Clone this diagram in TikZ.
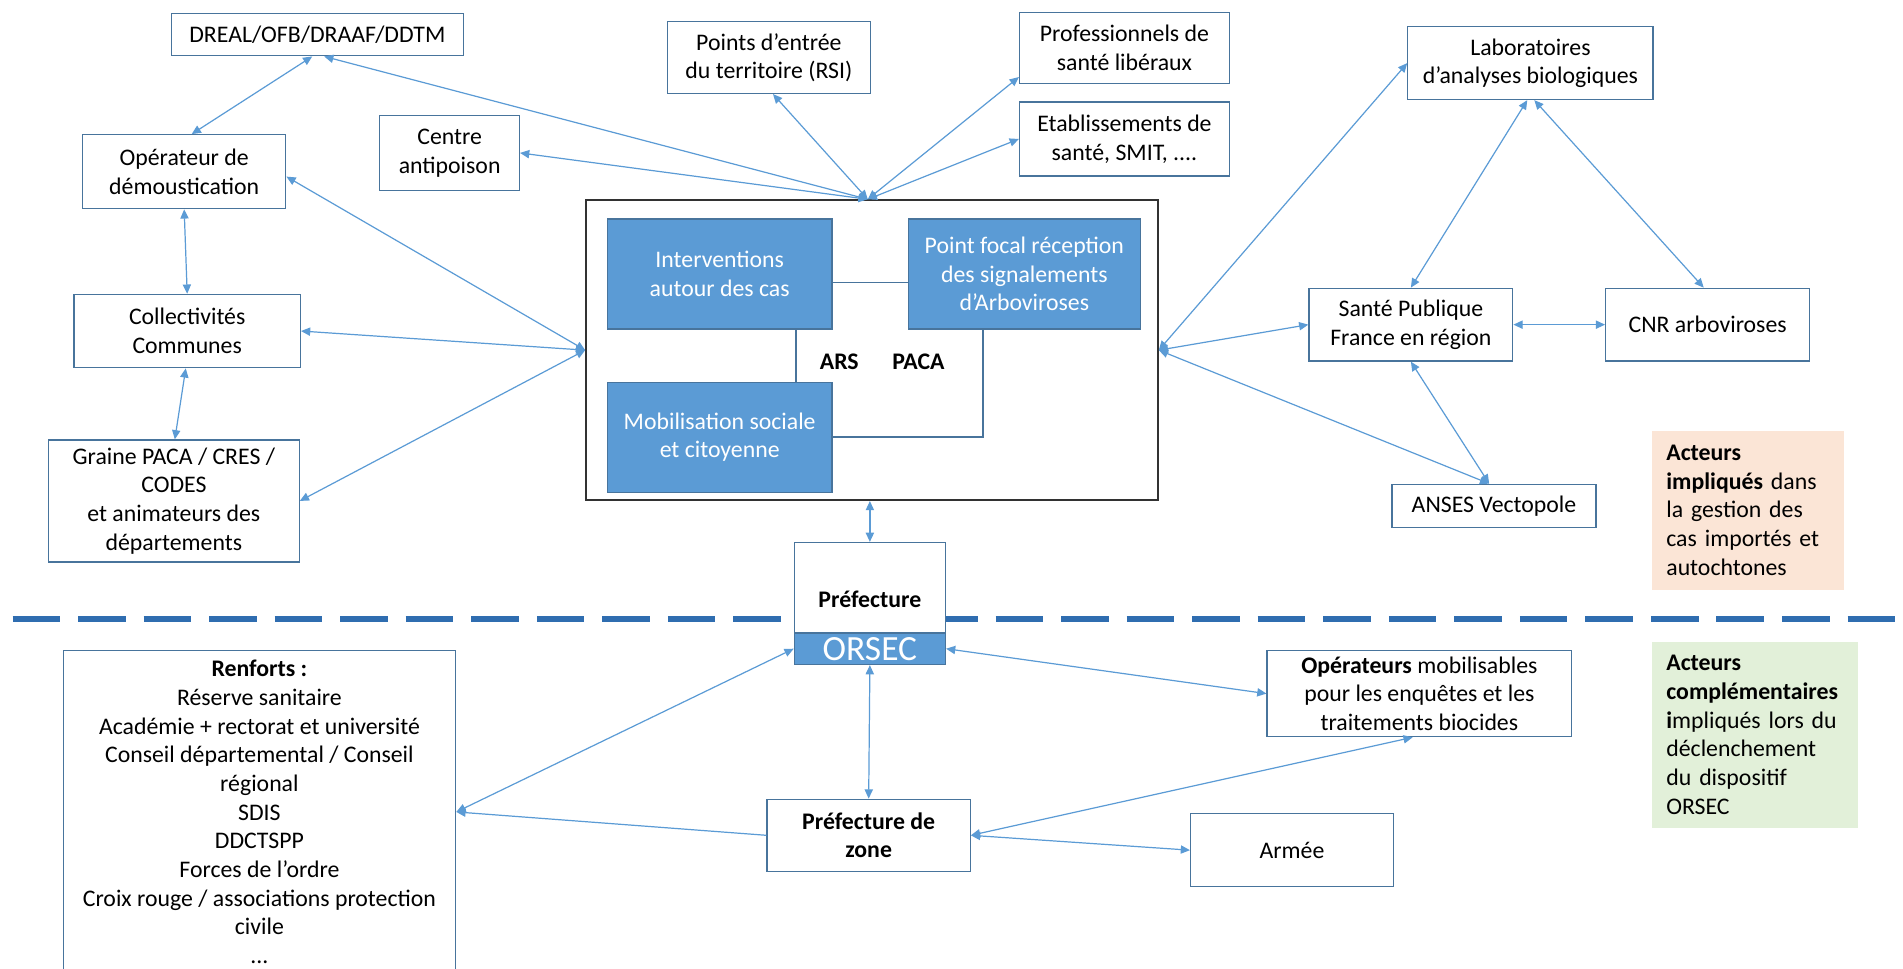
\documentclass[tikz,border=0pt]{standalone}
\usepackage{fontspec}
\setmainfont{Carlito}
\usetikzlibrary{arrows.meta}

\definecolor{arrowblue}{RGB}{91,155,213}
\definecolor{boxline}{RGB}{72,116,156}
\definecolor{fillblue}{RGB}{91,155,213}
\definecolor{dashblue}{RGB}{47,109,176}
\definecolor{mainline}{RGB}{50,50,50}
\definecolor{peach}{RGB}{251,229,214}
\definecolor{lightgreen}{RGB}{226,240,217}

\tikzset{
    box/.style={draw=boxline, line width=0.5pt, fill=white, align=center, inner sep=0pt},
    bluebox/.style={draw=boxline, line width=0.5pt, fill=fillblue, text=white, align=center, inner sep=0pt},
    legend/.style={fill=#1, align=left, inner xsep=6pt, inner ysep=0pt},
    wh/.style 2 args={minimum width=#1*0.5pt, minimum height=#2*0.5pt},
    link/.style={arrowblue, line width=0.5pt, >={Triangle[length=3.8pt,width=3.4pt]}, <->},
    linkone/.style={arrowblue, line width=0.5pt, >={Triangle[length=3.8pt,width=3.4pt]}, ->},
    inner/.style={boxline, line width=0.6pt},
    separator/.style={dashblue, line width=2.75pt, dash pattern=on 19.6pt off 7.4pt}
}

\begin{document}
\fontsize{9.8}{11.8}\selectfont
\begin{tikzpicture}[x=0.5pt, y=-0.5pt]
                    \useasboundingbox (0,0) rectangle (1568,798);
                    \clip (0,0) rectangle (1568,798);
                    % Separator
                    \draw[separator] (10.3,510) -- (1562,510);
                    % ARS block
                    \node[box, draw=mainline, line width=0.8pt, wh={471}{247}] (main) at (718.5,288.5) {};
                    \node[bluebox, wh={185}{90.5}] (interv) at (593,225.75) {Interventions\\autour des cas};
                    \node[bluebox, wh={191}{90.5}] (focal) at (844,225.75) {Point focal réception\\des signalements\\d’Arboviroses};
                    \node[bluebox, wh={185}{90.5}] (mobil) at (593,360.25) {Mobilisation sociale\\et citoyenne};
                    \node[font=\bfseries] (ars) at (691.5,298) {ARS};
                    \node[font=\bfseries] (paca) at (756.8,298) {PACA};
                    \draw[inner] ([yshift=-3.6pt]interv.east) -- ([yshift=-3.6pt]focal.west);
                    \draw[inner] ([xshift=31.5pt]interv.south) -- ([xshift=31.5pt]mobil.north);
                    \draw[inner] ([xshift=-17pt]focal.south) |- (mobil.east);
                    \coordinate (hubtop) at ([xshift=-1.75pt]main.north);
                    \coordinate (hubleft) at (main.west);
                    \coordinate (hubright) at (main.east);
                    % Top row
                    \node[box, wh={241}{35}] (dreal) at (261.5,28.5) {DREAL/OFB/DRAAF/DDTM};
                    \node[box, wh={167}{59}] (points) at (633.5,47.5) {Points d’entrée\\du territoire (RSI)};
                    \node[box, wh={173}{59}] (prof) at (926.5,39.5) {Professionnels de\\santé libéraux};
                    \node[box, wh={115}{62}] (centre) at (370.5,126) {Centre\\antipoison};
                    \node[box, wh={173}{61}] (etab) at (926.5,114.5) {Etablissements de\\santé, SMIT, ....};
                    \node[box, wh={202}{60}] (labo) at (1261,52) {Laboratoires\\d’analyses biologiques};
                    % Left column
                    \node[box, wh={167.5}{61}] (demoust) at (151.75,141.5) {Opérateur de\\démoustication};
                    \node[box, wh={186.5}{60.5}] (collect) at (154.25,272.75) {Collectivités\\Communes};
                    \node[box, wh={206.5}{100.5}] (graine) at (143.25,412.75) {Graine PACA / CRES /\\CODES\\et animateurs des\\départements};
                    % Right side
                    \node[box, wh={168}{60}] (spf) at (1162.5,267.5) {Santé Publique\\France en région};
                    \node[box, wh={168}{60}] (cnr) at (1407,267.5) {CNR arboviroses};
                    \node[box, wh={168}{35.5}] (anses) at (1231,416.75) {ANSES Vectopole};
                    \node[legend=peach, wh={158}{131}, text width=67pt] (leg1) at (1440,420.5)
                        {\textbf{Acteurs}\\\textbf{impliqués} dans\\la gestion des\\cas importés et\\autochtones};
                    % ORSEC part
                    \node[box, wh={124.5}{100.5}] (pref) at (716.75,497.25) {\raisebox{3.5pt}{\textbf{Préfecture}}};
                    \node[bluebox, wh={124.5}{26}, font=\fontsize{14.6}{16}\selectfont] (orsec) at (716.75,534.5) {ORSEC};
                    \node[box, wh={323.5}{266}] (renforts) at (213.75,669)
                        {\textbf{Renforts :}\\Réserve sanitaire\\Académie + rectorat et université\\Conseil départemental / Conseil\\régional\\SDIS\\DDCTSPP\\Forces de l’ordre\\Croix rouge / associations protection\\civile\\...};
                    \node[box, wh={251}{71}] (operat) at (1169.5,571.5) {\textbf{Opérateurs} mobilisables\\pour les enquêtes et les\\traitements biocides};
                    \node[box, wh={167.5}{59.5}] (zone) at (715.75,688.25) {\textbf{Préfecture de}\\\textbf{zone}};
                    \node[box, wh={167}{60}] (armee) at (1064.5,700.5) {Armée};
                    \node[legend=lightgreen, wh={170}{153}, text width=73pt] (leg2) at (1446,605.5)
                        {\textbf{Acteurs}\\\textbf{complémentaires}\\\textbf{i}mpliqués lors du\\déclenchement\\du dispositif\\ORSEC};
                    % Arrows top
                    \draw[link] ([xshift=-2.1pt]dreal.south) -- ([xshift=3.1pt]demoust.north);
                    \draw[link] ([xshift=2.8pt]dreal.south) -- (hubtop);
                    \draw[link] ([xshift=1.7pt]points.south) -- (hubtop);
                    \draw[link] (centre.east) -- (hubtop);
                    \draw[link] ([yshift=-12pt]prof.west) -- (hubtop);
                    \draw[link] (etab.west) -- (hubtop);
                    % Arrows left
                    \draw[link] ([yshift=-2pt]demoust.east) -- (hubleft);
                    \draw[link] (collect.east) -- (hubleft);
                    \draw[link] (graine.east) -- (hubleft);
                    \draw[link] (demoust.south) -- (collect.north);
                    \draw[link] ([xshift=-0.6pt]collect.south) -- ([xshift=0.4pt]graine.north);
                    % Arrows right
                    \draw[link] (hubright) -- (labo.west);
                    \draw[link] (hubright) -- (spf.west);
                    \draw[link] (hubright) -- ([xshift=-2pt]anses.north);
                    \draw[link] ([xshift=-1.3pt]labo.south) -- (spf.north);
                    \draw[link] ([xshift=1.6pt]labo.south) -- ([xshift=-1.6pt]cnr.north);
                    \draw[link] (spf.east) -- (cnr.west);
                    \draw[link] (spf.south) -- ([xshift=-2pt]anses.north);
                    % Arrows bottom
                    \draw[link] (pref.north |- main.south) -- (pref.north);
                    \draw[link] (orsec.west) -- (renforts.east);
                    \draw[linkone] (zone.west) -- (renforts.east);
                    \draw[link] (orsec.south) -- (zone.north);
                    \draw[link] (orsec.east) -- (operat.west);
                    \draw[link] (zone.east) -- ([xshift=-2.75pt]operat.south);
                    \draw[link] (zone.east) -- (armee.west);
                \end{tikzpicture}
\end{document}
